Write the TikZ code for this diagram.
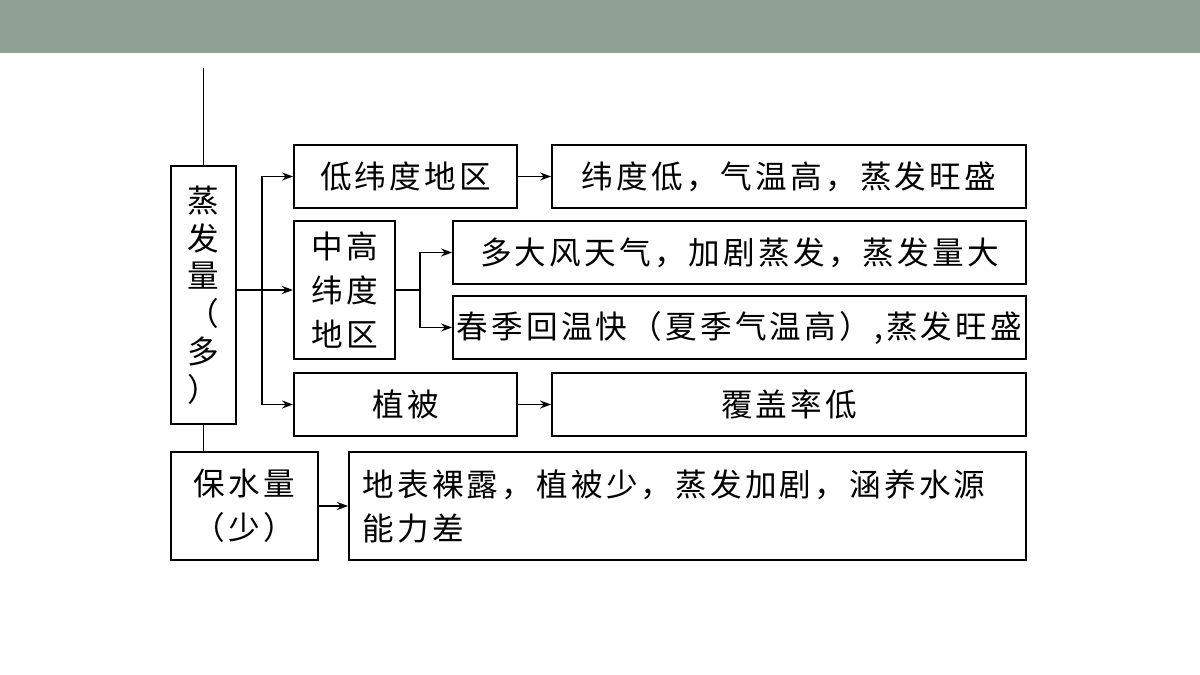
\documentclass[tikz,border=0pt]{standalone}
\usepackage{fontspec}
\newfontfamily\cjk[LetterSpace=10]{Noto Sans CJK SC}
\usetikzlibrary{arrows.meta}
\definecolor{bargray}{HTML}{8FA095}
\tikzset{
  box/.style={draw,line width=1.1pt,minimum height=1.26cm,inner sep=0pt,font=\cjk\fontsize{18}{25}\selectfont},
  arr/.style={line width=1pt,-{Stealth[length=2.2mm,width=1.6mm]}}
}
\begin{document}
\begin{tikzpicture}[x=0.02cm,y=-0.02cm]
\useasboundingbox (0,0) rectangle (1200,675);
\fill[bargray] (0,0) rectangle (1200,53);

\node[box,minimum width=1.3cm,minimum height=5.16cm,align=center,font=\cjk\fontsize{18}{21.5}\selectfont] (evap) at (203.5,295) {蒸\\发\\量\\（\\多\\）};
\node[box,minimum width=4.46cm] (low) at (405.5,176.5) {低纬度地区};
\node[box,minimum width=9.48cm] (lowr) at (789,176.5) {纬度低，气温高，蒸发旺盛};
\node[box,minimum width=2.02cm,minimum height=2.76cm,align=center] (mid) at (344.5,290) {中高\\纬度\\地区};
\node[box,minimum width=11.46cm] (wind) at (739.5,252.5) {多大风天气，加剧蒸发，蒸发量大};
\node[box,minimum width=11.46cm] (spring) at (739.5,327.5) {春季回温快（夏季气温高）,蒸发旺盛};
\node[box,minimum width=4.46cm] (veg) at (405.5,404.5) {植被};
\node[box,minimum width=9.48cm] (vegr) at (789,404.5) {覆盖率低};
\node[box,minimum width=2.94cm,minimum height=2.16cm,align=center] (keep) at (244.5,506) {保水量\\（少）};
\node[box,minimum width=13.54cm,minimum height=2.16cm,align=left,text width=13cm] (keepr) at (687.5,506) {地表裸露，植被少，蒸发加剧，涵养水源\\能力差};

\coordinate (top) at (203.5,68);
\draw[line width=1.1pt] (top) -- (evap.north);
\draw[line width=1.1pt] (evap.south) -- (evap.south |- keep.north);
\coordinate (fork) at (262,290);
\draw[line width=1pt] (evap.east |- fork) -- (fork);
\draw[arr] (fork) |- (low.west);
\draw[arr] (fork) -- (mid.west);
\draw[arr] (fork) |- (veg.west);
\coordinate (fork2) at (420,290);
\draw[line width=1pt] (mid.east) -- (fork2);
\draw[arr] (fork2) |- (wind.west);
\draw[arr] (fork2) |- (spring.west);
\draw[arr] (low) -- (lowr);
\draw[arr] (veg) -- (vegr);
\draw[arr] (keep) -- (keepr);
\end{tikzpicture}
\end{document}
